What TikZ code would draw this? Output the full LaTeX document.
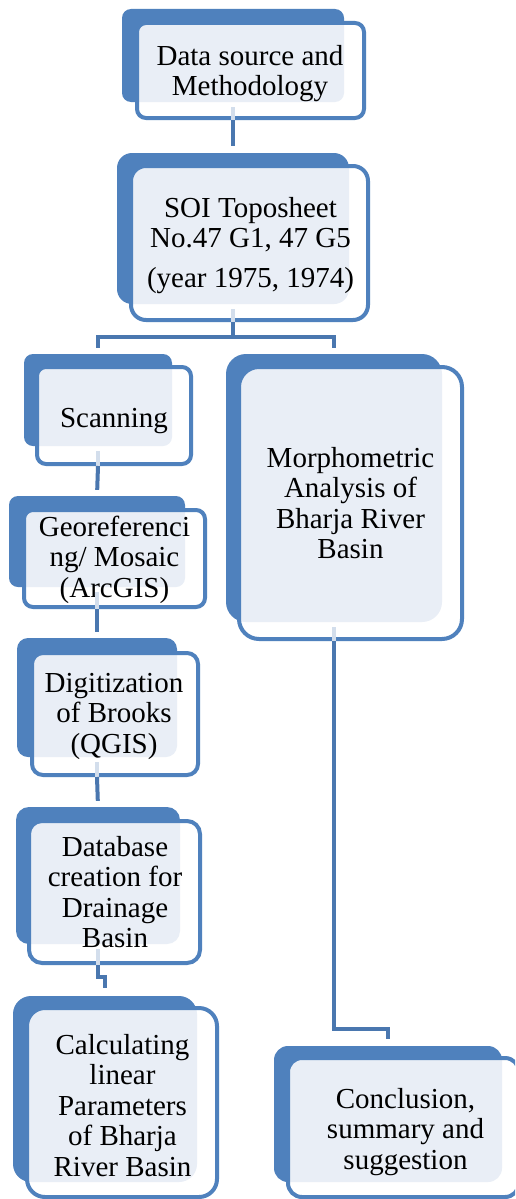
\documentclass[tikz,border=0pt]{standalone}
\usepackage{fontspec}
\setmainfont{Liberation Serif}
\usetikzlibrary{fit,calc}
\definecolor{bblue}{HTML}{4F81BD}
\definecolor{lfill}{HTML}{E9EEF6}
\definecolor{cline}{HTML}{4A77AF}
\definecolor{pale}{HTML}{D3DEEC}
\tikzset{
  conn/.style={draw=cline, line width=4pt},
  paleconn/.style={draw=pale, line width=4pt},
  txt/.style={anchor=north, align=center, inner sep=0pt, font=\fontsize{29}{30.5}\selectfont}
}
% #1 name, #2 back corner 1, #3 back corner 2, #4 front corner 1, #5 front corner 2, #6 radius
\newcommand\dbox[6]{%
  \node[fit={(#2)(#3)}, inner sep=0pt, fill=bblue, draw=none, rounded corners=#6] (#1B) {};
  \fill[white, rounded corners=#6] (#4) rectangle (#5);
  \begin{scope}
    \clip[rounded corners=#6] (#2) rectangle (#3);
    \fill[lfill, rounded corners=#6] (#4) rectangle (#5);
  \end{scope}
  \node[fit={(#4)(#5)}, inner sep=0pt, draw=bblue, line width=4pt, rounded corners=#6] (#1F) {};
}
\begin{document}
\begin{tikzpicture}[x=1pt, y=-1pt]
\useasboundingbox (0,0) rectangle (515,1199);
\clip (0,0) rectangle (515,1199);
\fill[white] (0,0) rectangle (515,1199);

\dbox{data}{122,9}{344,102}{137,23}{364,118}{9}
\dbox{soi}{117,153}{349,304}{131,166}{368,320}{15}
\dbox{scan}{24,354}{172,446}{37,367}{191,464}{9}
\dbox{morph}{226,354}{442,622}{239,367}{462,639}{20}
\dbox{geo}{9,496}{185,587}{24,510}{205,607}{9}
\dbox{digit}{17,638}{177,757}{32,653}{198,775}{11}
\dbox{db}{16,807}{180,944}{29,821}{200,963}{13}
\dbox{calc}{13,996}{197,1182}{27,1008}{217,1197}{18}
\dbox{conc}{274,1046}{502,1182}{288,1058}{519,1197}{14}

% texts
\node[txt] (dataT) at (250,43.65) {\strut Data source and\\Methodology};
\node[txt] (soiT) at (250.5,195.65) {\strut SOI Toposheet\\No.47 G1, 47 G5\\[9pt](year 1975, 1974)};
\node[txt] (scanT) at (114,405.65) {\strut Scanning};
\node[txt] (geoT) at (114.5,514.65) {\strut Georeferenci\\ng/ Mosaic\\(ArcGIS)};
\node[txt] (digitT) at (114,670.65) {\strut Digitization\\of Brooks\\(QGIS)};
\node[txt] (dbT) at (115,834.65) {\strut Database\\creation for\\Drainage\\Basin};
\node[txt] (calcT) at (122.5,1032.65) {\strut Calculating\\linear\\Parameters\\of Bharja\\River Basin};
\node[txt] (concT) at (405.5,1086.65) {\strut Conclusion,\\summary and\\suggestion};
\node[txt] (morphT) at (350.5,445.65) {\strut Morphometric\\Analysis of\\Bharja River\\Basin};

% pale segments inside front boxes
\foreach \n in {data,soi,scan,morph,geo,digit,db}{
  \draw[paleconn] ([yshift=-5pt]\n B.south) -- (\n B.south |- \n F.south);
}

% connectors
\coordinate (bus) at (233,337);
\coordinate (jog) at (0,977);
\coordinate (jog2) at (0,1029);
\draw[conn, shorten >=7pt] (dataB.south |- dataF.south) -- (soiB.north);
\draw[conn] (soiB.south |- soiF.south) -- (soiB.south |- bus);
\draw[conn, shorten <=6pt, shorten >=6pt] (scanB.north) -- (scanB.north |- bus) -- (morphB.north |- bus) -- (morphB.north);
\draw[conn, shorten >=6pt] (scanB.south |- scanF.south) -- (geoB.north);
\draw[conn, shorten >=6pt] (geoB.south |- geoF.south) -- (digitB.north);
\draw[conn, shorten >=6pt] (digitB.south |- digitF.south) -- (dbB.north);
\draw[conn, shorten >=8pt] (dbB.south |- dbF.south) -- (dbB.south |- jog) -- (calcB.north |- jog) -- (calcB.north);
\draw[conn, shorten >=7pt] (morphB.south |- morphF.south) -- (morphB.south |- jog2) -- (concB.north |- jog2) -- (concB.north);
\end{tikzpicture}
\end{document}
